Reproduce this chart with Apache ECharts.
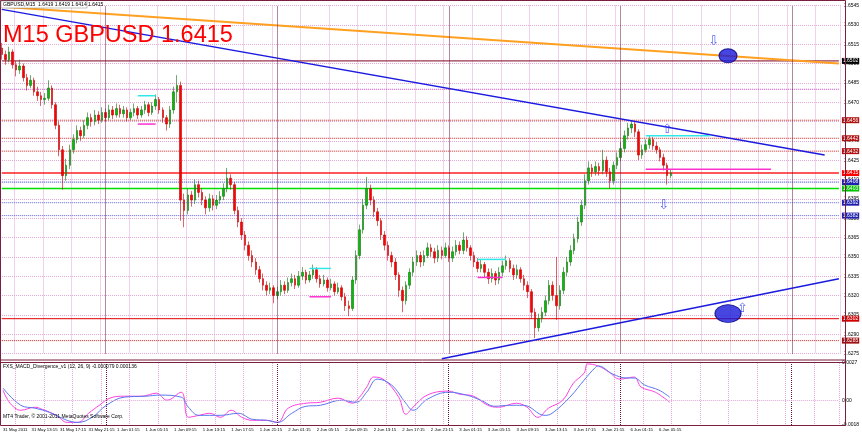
<!DOCTYPE html>
<html>
<head>
<meta charset="utf-8" />
<title>M15 GBPUSD</title>
<script src="https://cdn.jsdelivr.net/npm/echarts@6/dist/echarts.min.js"></script>
<style>
    html, body { margin: 0; padding: 0; background: #ffffff; }
    #chart { width: 862px; height: 436px; }
</style>
</head>
<body>
<div id="chart"></div>
<script type="text/javascript">
// 30 min candles (index 0 = 31 May 09:15)
var opens = [
    1.6512,1.6507,1.6503,1.6509,1.6499,1.6495,1.6498,1.6489,1.6483,1.6487,
    1.6478,1.6475,1.6472,1.6473,1.6481,1.6468,1.6452,1.6433,1.6413,1.6421,
    1.6433,1.6441,1.6448,1.6444,1.6452,1.6458,1.6455,1.6460,1.6456,1.6462,
    1.6458,1.6464,1.6460,1.6465,1.6461,1.6464,1.6458,1.6462,1.6465,1.6460,
    1.6464,1.6468,1.6462,1.6467,1.6472,1.6464,1.6458,1.6453,1.6464,1.6478,
    1.6483,1.6394,1.6386,1.6398,1.6394,1.6406,1.6400,1.6394,1.6388,1.6395,
    1.6390,1.6394,1.6397,1.6403,1.6411,1.6406,1.6386,1.6377,1.6367,1.6359,
    1.6351,1.6346,1.6340,1.6333,1.6328,1.6324,1.6326,1.6320,1.6323,1.6328,
    1.6324,1.6330,1.6333,1.6328,1.6335,1.6338,1.6332,1.6336,1.6340,1.6333,
    1.6329,1.6332,1.6326,1.6329,1.6323,1.6326,1.6319,1.6312,1.6310,1.6332,
    1.6351,1.6371,1.6390,1.6403,1.6394,1.6385,1.6378,1.6367,1.6359,1.6351,
    1.6346,1.6336,1.6324,1.6316,1.6328,1.6338,1.6346,1.6351,1.6346,1.6351,
    1.6357,1.6354,1.6349,1.6355,1.6351,1.6357,1.6349,1.6354,1.6359,1.6355,
    1.6363,1.6357,1.6351,1.6346,1.6341,1.6344,1.6338,1.6333,1.6337,1.6332,
    1.6338,1.6343,1.6347,1.6341,1.6336,1.6340,1.6333,1.6328,1.6323,1.6307,
    1.6295,1.6302,1.6307,1.6316,1.6328,1.6320,1.6312,1.6324,1.6338,1.6346,
    1.6355,1.6364,1.6377,1.6390,1.6409,1.6419,1.6416,1.6420,1.6417,1.6425,
    1.6416,1.6409,1.6421,1.6427,1.6434,1.6444,1.6450,1.6453,1.6447,1.6429,
    1.6433,1.6437,1.6441,1.6436,1.6433,1.6427,1.6421,1.6413
];
var closes = [
    1.6507,1.6503,1.6509,1.6499,1.6495,1.6498,1.6489,1.6483,1.6487,1.6478,
    1.6475,1.6472,1.6473,1.6481,1.6468,1.6452,1.6433,1.6413,1.6421,1.6433,
    1.6441,1.6448,1.6444,1.6452,1.6458,1.6455,1.6460,1.6456,1.6462,1.6458,
    1.6464,1.6460,1.6465,1.6461,1.6464,1.6458,1.6462,1.6465,1.6460,1.6464,
    1.6468,1.6462,1.6467,1.6472,1.6464,1.6458,1.6453,1.6464,1.6478,1.6483,
    1.6394,1.6386,1.6398,1.6394,1.6406,1.6400,1.6394,1.6388,1.6395,1.6390,
    1.6394,1.6397,1.6403,1.6411,1.6406,1.6386,1.6377,1.6367,1.6359,1.6351,
    1.6346,1.6340,1.6333,1.6328,1.6324,1.6326,1.6320,1.6323,1.6328,1.6324,
    1.6330,1.6333,1.6328,1.6335,1.6338,1.6332,1.6336,1.6340,1.6333,1.6329,
    1.6332,1.6326,1.6329,1.6323,1.6326,1.6319,1.6312,1.6310,1.6332,1.6351,
    1.6371,1.6390,1.6403,1.6394,1.6385,1.6378,1.6367,1.6359,1.6351,1.6346,
    1.6336,1.6324,1.6316,1.6328,1.6338,1.6346,1.6351,1.6346,1.6351,1.6357,
    1.6354,1.6349,1.6355,1.6351,1.6357,1.6349,1.6354,1.6359,1.6355,1.6363,
    1.6357,1.6351,1.6346,1.6341,1.6344,1.6338,1.6333,1.6337,1.6332,1.6338,
    1.6343,1.6347,1.6341,1.6336,1.6340,1.6333,1.6328,1.6323,1.6307,1.6295,
    1.6302,1.6307,1.6316,1.6328,1.6320,1.6312,1.6324,1.6338,1.6346,1.6355,
    1.6364,1.6377,1.6390,1.6409,1.6419,1.6416,1.6420,1.6417,1.6425,1.6416,
    1.6409,1.6421,1.6427,1.6434,1.6444,1.6450,1.6453,1.6447,1.6429,1.6433,
    1.6437,1.6441,1.6436,1.6433,1.6427,1.6421,1.6413,1.6415
];
var highs = [
    1.6516,1.6510,1.6513,1.6511,1.6502,1.6503,1.6500,1.6492,1.6491,1.6489,
    1.6482,1.6478,1.6477,1.6487,1.6483,1.6470,1.6455,1.6436,1.6426,1.6437,
    1.6445,1.6452,1.6451,1.6456,1.6462,1.6461,1.6464,1.6463,1.6466,1.6465,
    1.6468,1.6467,1.6469,1.6468,1.6467,1.6466,1.6465,1.6469,1.6467,1.6467,
    1.6471,1.6470,1.6470,1.6476,1.6474,1.6466,1.6460,1.6467,1.6482,1.6491,
    1.6486,1.6399,1.6403,1.6401,1.6410,1.6409,1.6403,1.6397,1.6399,1.6398,
    1.6398,1.6401,1.6407,1.6419,1.6414,1.6408,1.6389,1.6380,1.6370,1.6362,
    1.6355,1.6349,1.6343,1.6337,1.6331,1.6330,1.6328,1.6327,1.6332,1.6331,
    1.6334,1.6337,1.6336,1.6339,1.6342,1.6340,1.6339,1.6344,1.6342,1.6336,
    1.6336,1.6334,1.6333,1.6331,1.6330,1.6328,1.6322,1.6316,1.6335,1.6355,
    1.6375,1.6395,1.6412,1.6406,1.6397,1.6388,1.6380,1.6370,1.6362,1.6354,
    1.6349,1.6338,1.6327,1.6331,1.6341,1.6350,1.6355,1.6354,1.6355,1.6361,
    1.6360,1.6357,1.6359,1.6358,1.6361,1.6359,1.6358,1.6363,1.6362,1.6369,
    1.6366,1.6359,1.6354,1.6349,1.6348,1.6346,1.6341,1.6341,1.6339,1.6342,
    1.6347,1.6351,1.6349,1.6344,1.6344,1.6342,1.6336,1.6331,1.6325,1.6310,
    1.6306,1.6311,1.6320,1.6332,1.6331,1.6350,1.6328,1.6342,1.6350,1.6359,
    1.6368,1.6381,1.6394,1.6414,1.6424,1.6422,1.6424,1.6423,1.6433,1.6428,
    1.6419,1.6424,1.6431,1.6439,1.6448,1.6454,1.6456,1.6455,1.6449,1.6437,
    1.6441,1.6444,1.6443,1.6439,1.6435,1.6430,1.6423,1.6418
];
var lows = [
    1.6503,1.6499,1.6501,1.6496,1.6490,1.6492,1.6486,1.6479,1.6481,1.6475,
    1.6471,1.6467,1.6468,1.6471,1.6465,1.6449,1.6428,1.6402,1.6409,1.6418,
    1.6430,1.6438,1.6440,1.6442,1.6449,1.6451,1.6452,1.6453,1.6454,1.6455,
    1.6456,1.6457,1.6458,1.6458,1.6458,1.6455,1.6456,1.6459,1.6457,1.6458,
    1.6461,1.6459,1.6460,1.6464,1.6461,1.6454,1.6448,1.6450,1.6461,1.6470,
    1.6378,1.6373,1.6383,1.6389,1.6391,1.6396,1.6390,1.6383,1.6385,1.6386,
    1.6387,1.6391,1.6394,1.6400,1.6402,1.6383,1.6373,1.6363,1.6355,1.6347,
    1.6342,1.6336,1.6330,1.6324,1.6320,1.6321,1.6314,1.6317,1.6320,1.6321,
    1.6322,1.6327,1.6325,1.6326,1.6332,1.6329,1.6330,1.6333,1.6330,1.6326,
    1.6327,1.6323,1.6324,1.6320,1.6321,1.6316,1.6308,1.6304,1.6308,1.6329,
    1.6348,1.6368,1.6387,1.6390,1.6381,1.6374,1.6363,1.6355,1.6347,1.6342,
    1.6332,1.6319,1.6307,1.6313,1.6325,1.6335,1.6343,1.6342,1.6343,1.6349,
    1.6350,1.6345,1.6346,1.6348,1.6349,1.6346,1.6346,1.6351,1.6352,1.6352,
    1.6354,1.6347,1.6342,1.6338,1.6338,1.6334,1.6329,1.6330,1.6328,1.6329,
    1.6335,1.6340,1.6338,1.6332,1.6333,1.6330,1.6324,1.6318,1.6302,1.6287,
    1.6292,1.6299,1.6304,1.6313,1.6316,1.6301,1.6309,1.6321,1.6335,1.6343,
    1.6352,1.6361,1.6374,1.6387,1.6406,1.6412,1.6413,1.6413,1.6414,1.6412,
    1.6403,1.6406,1.6418,1.6424,1.6431,1.6441,1.6446,1.6443,1.6425,1.6426,
    1.6431,1.6434,1.6433,1.6430,1.6424,1.6417,1.6406,1.6411
];

// time scale labels, one every 8 bars
var timeLabels = [
    '31 May 2011', '31 May 13:15', '31 May 17:15', '31 May 21:15',
    '1 Jun 01:15', '1 Jun 05:15', '1 Jun 09:15', '1 Jun 13:15', '1 Jun 17:15', '1 Jun 21:15',
    '2 Jun 01:15', '2 Jun 05:15', '2 Jun 09:15', '2 Jun 13:15', '2 Jun 17:15', '2 Jun 21:15',
    '3 Jun 01:15', '3 Jun 05:15', '3 Jun 09:15', '3 Jun 13:15', '3 Jun 17:15', '3 Jun 21:15',
    '6 Jun 01:15', '6 Jun 05:15'
];
var daySeparators = [29, 77, 125, 173, 221];

// trend lines [bar, price]
var orangeLine = [[0, 1.6544], [234, 1.6500]];
var upperBlueLine = [[0, 1.6542], [230, 1.6429]];
var lowerBlueLine = [[123, 1.6271], [234, 1.6333]];

// short range marks [startBar, endBar, price]
var cyanMarks = [[38, 43, 1.6475], [86, 92, 1.6341], [133, 141, 1.6348], [180, 198, 1.6444]];
var magentaMarks = [[38, 43, 1.6453], [86, 92, 1.6319], [133, 140, 1.6334], [180, 215, 1.6418]];

// horizontal levels
var levelPrices = [1.6502, 1.6480, 1.6456, 1.6442, 1.6432, 1.6415, 1.6408, 1.6403, 1.6392, 1.6382, 1.6302, 1.6285];

// signal dots and arrows [bar, price]
var dots = [[203, 1.6506], [203, 1.6306]];
var upArrows = [[186, 1.6449], [207, 1.6310]];
var downArrows = [[185, 1.6390], [199, 1.6517]];

// MACD pane [bar, value]
var macdLine = [
    [0,0.00073],[2,-0.00022],[5,-0.00073],[9,-0.00051],[11,-0.00066],[15,-0.0011],[18,-0.00161],[21,-0.00161],
    [24,-0.00095],[27,-0.00037],[30,0.00015],[34,0.00029],[39,0.00029],[43,0.00051],[46,0.0],[50,0.00058],
    [52,-0.00124],[55,-0.0011],[58,-0.00095],[61,-0.00124],[64,-0.00073],[67,-0.00124],[70,-0.00146],[74,-0.00146],
    [77,-0.00161],[80,-0.00058],[85,-0.00022],[89,-0.00015],[94,0.00015],[98,-0.00022],[100,0.00022],[102,0.00095],
    [104,0.00168],[107,0.00146],[111,0.00022],[113,-0.00102],[115,-0.00051],[119,0.00037],[125,0.00066],[128,0.00044],
    [132,0.00029],[136,-0.00037],[139,-0.00051],[144,-0.00022],[147,-0.00051],[150,-0.00124],[153,-0.00058],[157,0.0],
    [160,0.00124],[163,0.00197],[164,0.00263],[167,0.00248],[170,0.00204],[173,0.00153],[177,0.00168],[179,0.00095],
    [183,0.00058],[187,-0.00015]
];
var signalLine = [
    [0,0.00088],[5,-0.00037],[9,-0.00058],[13,-0.00088],[18,-0.00146],[21,-0.00161],[25,-0.00124],[29,-0.00037],
    [34,0.00022],[40,0.00029],[44,0.00037],[50,0.00022],[52,-0.00051],[55,-0.0011],[61,-0.0011],[66,-0.00095],
    [70,-0.00139],[74,-0.00146],[77,-0.00161],[81,-0.00095],[85,-0.00044],[89,-0.00037],[95,0.0],[99,-0.00015],
    [102,0.00058],[105,0.00153],[109,0.0011],[113,-0.00022],[115,-0.00073],[119,0.00007],[125,0.00058],[130,0.00037],
    [134,0.0],[138,-0.00044],[142,-0.00037],[146,-0.00037],[152,-0.0011],[154,-0.00095],[159,0.00022],[163,0.00146],
    [166,0.00234],[167,0.00248],[171,0.0019],[175,0.00161],[177,0.00161],[180,0.0011],[184,0.00073],[187,0.00022]
];

var N_CAT = 235;
var categories = [];
for (var i = 0; i < N_CAT; i++) categories.push(String(i));

var candles = [];
for (var i = 0; i < opens.length; i++) candles.push([opens[i], closes[i], lows[i], highs[i]]);

// line colour, dash, width, price box colour
var levelLook = [
    ['#800020', 'solid', 1, '#000000'],
    ['#c040c0', 'dotted', 1, null],
    ['#d02020', 'dotted', 1, '#b01010'],
    ['#d02020', 'dotted', 1, '#b01010'],
    ['#d02020', 'dotted', 1, '#b01010'],
    ['#ff2020', 'solid', 1.5, '#ff0000'],
    ['#3030d0', 'dotted', 1, '#2020b0'],
    ['#00e000', 'solid', 1.5, '#00c000'],
    ['#6060e0', 'dotted', 1, '#2020b0'],
    ['#6060e0', 'dotted', 1, '#2020b0'],
    ['#e00000', 'solid', 1, '#d00000'],
    ['#c02020', 'dotted', 1, '#a01010']
];

var gridColor = '#e2a8d6';
var gridTick = function (i) { return i % 8 === 4; };
var labelTick = function (i) { return i % 8 === 0; };
var lastCat = N_CAT - 1;

var series = [{
    type: 'candlestick',
    xAxisIndex: 0, yAxisIndex: 0,
    data: candles,
    barWidth: 2,
    itemStyle: { color: '#00c000', color0: '#ff0000', borderColor: '#107010', borderColor0: '#c00000', borderWidth: 0.6 },
    markLine: {
        silent: true, symbol: ['none', 'none'], animation: false, label: { show: false },
        data: daySeparators.map(function (d) {
            return { xAxis: String(d), lineStyle: { color: '#6a1040', type: 'dotted', width: 1 } };
        })
    },
    z: 3
}];

// price levels across the whole pane, with their box on the price scale
levelPrices.forEach(function (p, k) {
    var lk = levelLook[k];
    series.push({
        type: 'line', xAxisIndex: 0, yAxisIndex: 0,
        data: [[0, p], [lastCat, p]],
        showSymbol: false, symbol: 'none', silent: true, clip: false,
        lineStyle: { color: lk[0], type: lk[1], width: lk[2] },
        endLabel: lk[3] ? {
            show: true, formatter: p.toFixed(4), distance: 3,
            backgroundColor: lk[3], color: '#ffffff', fontSize: 5, fontFamily: 'Liberation Sans', padding: [1, 1, 0, 1]
        } : { show: false },
        z: 2
    });
});

function addLine(pts, color, width, z) {
    series.push({
        type: 'line', xAxisIndex: 0, yAxisIndex: 0, data: pts, clip: false,
        showSymbol: false, symbol: 'none', silent: true,
        lineStyle: { color: color, width: width }, z: z || 4
    });
}
addLine(orangeLine, '#ffa020', 2);
addLine(upperBlueLine, '#1a1ae0', 1.5);
addLine(lowerBlueLine, '#1a1ae0', 1.5);
cyanMarks.forEach(function (m) { addLine([[m[0], m[2]], [m[1], m[2]]], '#30e8e8', 1.5, 5); });
magentaMarks.forEach(function (m) { addLine([[m[0], m[2]], [m[1], m[2]]], '#ff30d0', 1.5, 5); });

series.push({
    type: 'scatter', xAxisIndex: 0, yAxisIndex: 0, data: [dots[0]], symbol: 'circle', symbolSize: [18, 14],
    itemStyle: { color: '#1818d8', borderColor: '#000080', borderWidth: 1 }, silent: true, z: 6
});
series.push({
    type: 'scatter', xAxisIndex: 0, yAxisIndex: 0, data: [dots[1]], symbol: 'circle', symbolSize: [26, 18],
    itemStyle: { color: '#1818d8', borderColor: '#000080', borderWidth: 1 }, silent: true, z: 6
});
series.push({
    type: 'scatter', xAxisIndex: 0, yAxisIndex: 0, data: upArrows, symbolSize: 1,
    itemStyle: { color: 'rgba(0,0,0,0)' }, silent: true, z: 7,
    label: { show: true, position: 'inside', formatter: '\u21e7', color: '#2a3cf0', fontSize: 13, fontFamily: 'DejaVu Sans' }
});
series.push({
    type: 'scatter', xAxisIndex: 0, yAxisIndex: 0, data: downArrows, symbolSize: 1,
    itemStyle: { color: 'rgba(0,0,0,0)' }, silent: true, z: 7,
    label: { show: true, position: 'inside', formatter: '\u21e9', color: '#2a3cf0', fontSize: 13, fontFamily: 'DejaVu Sans' }
});

var sepLines = daySeparators.map(function (d) {
    return { xAxis: String(d), lineStyle: { color: '#6a1040', type: 'dotted', width: 1 } };
});
sepLines.push({ yAxis: 0, lineStyle: { color: gridColor, type: 'dotted', width: 1 } });
series.push({
    type: 'line', xAxisIndex: 1, yAxisIndex: 1, data: macdLine, smooth: 0.4,
    showSymbol: false, symbol: 'none', lineStyle: { color: '#ff40e0', width: 1 }, z: 4,
    markLine: { silent: true, symbol: ['none', 'none'], label: { show: false }, animation: false, data: sepLines }
});
series.push({
    type: 'line', xAxisIndex: 1, yAxisIndex: 1, data: signalLine, smooth: 0.4,
    showSymbol: false, symbol: 'none', lineStyle: { color: '#5a78f0', width: 1 }, z: 4
});

var smallText = { fontFamily: 'Liberation Sans', fontSize: 5, fill: '#000000' };
var frameColor = '#7a1f3d';

var option = {
    animation: false,
    backgroundColor: '#ffffff',
    textStyle: { fontFamily: 'Liberation Sans' },
    grid: [
        { left: 0, top: 5.5, width: 845, height: 348 },
        { left: 0, top: 363, width: 845, height: 62 }
    ],
    xAxis: [{
        type: 'category', gridIndex: 0, data: categories,
        axisLine: { show: false }, axisTick: { show: false }, axisLabel: { show: false },
        splitLine: { show: true, interval: gridTick, lineStyle: { color: gridColor, type: 'dotted', width: 1 } }
    }, {
        type: 'category', gridIndex: 1, data: categories,
        axisLine: { show: false }, axisTick: { show: false },
        axisLabel: {
            show: true, interval: labelTick, fontSize: 4.3, color: '#000000', margin: 3, align: 'left',
            formatter: function (v, idx) { return timeLabels[idx / 8] || ''; }
        },
        splitLine: { show: true, interval: gridTick, lineStyle: { color: gridColor, type: 'dotted', width: 1 } }
    }],
    yAxis: [{
        type: 'value', gridIndex: 0, position: 'right',
        min: 1.6275, max: 1.6545, interval: 0.0015,
        axisLine: { show: false }, axisTick: { show: false },
        axisLabel: { fontSize: 5, color: '#000000', margin: 3, formatter: function (v) { return v.toFixed(4); } },
        splitLine: { show: true, lineStyle: { color: gridColor, type: 'dotted', width: 1 } }
    }, {
        type: 'value', gridIndex: 1, position: 'right',
        min: -0.0018, max: 0.0027,
        axisLine: { show: false }, axisTick: { show: false },
        axisLabel: {
            fontSize: 5, color: '#000000', margin: 3, customValues: [-0.0018, 0, 0.0027],
            formatter: function (v) { return Math.abs(v) < 1e-9 ? '0.00' : v.toFixed(4); }
        },
        splitLine: { show: false }
    }],
    graphic: [
        { type: 'rect', shape: { x: 0.5, y: 0.5, width: 845, height: 425 }, style: { fill: 'none', stroke: frameColor, lineWidth: 1 }, silent: true, z: 10 },
        { type: 'line', shape: { x1: 0, y1: 360, x2: 845, y2: 360 }, style: { stroke: frameColor, lineWidth: 1 }, silent: true, z: 10 },
        { type: 'line', shape: { x1: 0, y1: 362.5, x2: 845, y2: 362.5 }, style: { stroke: frameColor, lineWidth: 1 }, silent: true, z: 10 },
        { type: 'rect', shape: { x: 1, y: 1, width: 86, height: 7 }, style: { fill: '#ffffff', stroke: '#808080', lineWidth: 0.5 }, silent: true, z: 10 },
        { type: 'text', left: 3, top: 2, style: Object.assign({ text: 'GBPUSD,M15  1.6419 1.6419 1.6414 1.6415' }, smallText), silent: true, z: 11 },
        { type: 'text', left: 3, top: 24, style: { text: 'M15 GBPUSD 1.6415', fill: '#ff0000', fontSize: 23.5, fontFamily: 'Liberation Sans' }, silent: true, z: 11 },
        { type: 'text', left: 3, top: 364, style: Object.assign({ text: 'FXS_MACD_Divergence_v1 (12, 26, 9) -0.000079 0.000136' }, smallText), silent: true, z: 11 },
        { type: 'text', left: 3, top: 414, style: Object.assign({ text: 'MT4 Trader, \u00a9 2001-2011 MetaQuotes Software Corp.' }, smallText), silent: true, z: 11 }
    ],
    series: series
};

var myChart = echarts.init(document.getElementById('chart'), null, { renderer: 'canvas' });
myChart.setOption(option);
</script>
</body>
</html>
